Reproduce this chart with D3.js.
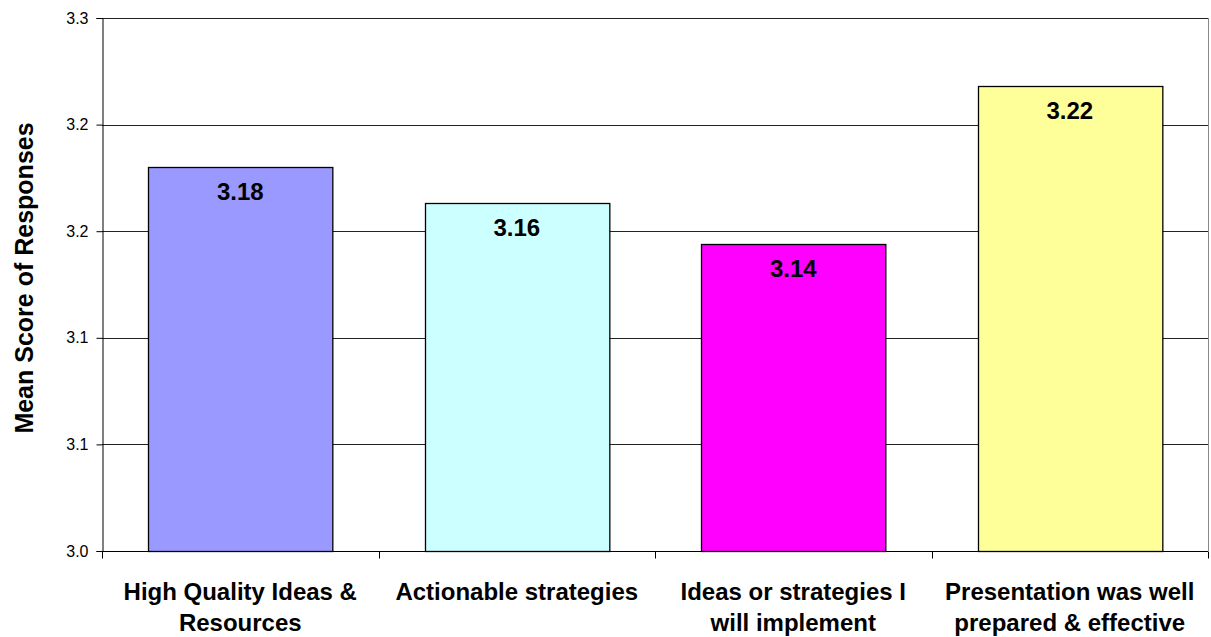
<!DOCTYPE html>
<html>
<head>
<meta charset="utf-8">
<script src="https://cdn.jsdelivr.net/npm/d3@7"></script>
<style>
  html, body { margin: 0; padding: 0; background: #fff; }
  svg { display: block; font-family: "Liberation Sans", Arial, sans-serif; }
</style>
</head>
<body>
<svg id="chart" width="1211" height="637"></svg>
<script>
// Survey results: mean score per question
const categories = [
  "High Quality Ideas &\nResources",
  "Actionable strategies",
  "Ideas or strategies I\nwill implement",
  "Presentation was well\nprepared & effective"
];
const meanScores = [3.18, 3.163, 3.144, 3.218];
const valueLabels = ["3.18", "3.16", "3.14", "3.22"];
const barColors = ["#9999FF", "#CCFFFF", "#FF00FF", "#FFFF99"];
const tickValues = [3.00, 3.05, 3.10, 3.15, 3.20, 3.25];
const tickLabels = ["3.0", "3.1", "3.1", "3.2", "3.2", "3.3"];
const yTitle = "Mean Score of Responses";

const svg = d3.select("#chart");
const margin = { left: 102, right: 3, top: 18, bottom: 86 };
const W = 1211, H = 637;

const x = d3.scaleBand()
  .domain(categories)
  .range([margin.left, W - margin.right])
  .paddingInner(1 / 3)
  .paddingOuter(1 / 6);

const y = d3.scaleLinear()
  .domain([3.0, 3.25])
  .range([H - margin.bottom, margin.top]);

// Horizontal gridlines
svg.append("g")
  .selectAll("line")
  .data(tickValues.slice(1))
  .join("line")
  .attr("x1", margin.left)
  .attr("x2", W - margin.right)
  .attr("y1", d => Math.round(y(d)) + 0.5)
  .attr("y2", d => Math.round(y(d)) + 0.5)
  .attr("stroke", "#222")
  .attr("stroke-width", 1);

// Right border of plot area
svg.append("line")
  .attr("x1", W - margin.right + 0.5).attr("x2", W - margin.right + 0.5)
  .attr("y1", margin.top).attr("y2", H - margin.bottom)
  .attr("stroke", "#888");

// Bars
const data = categories.map((c, i) => ({ c, v: meanScores[i], label: valueLabels[i], color: barColors[i] }));

svg.append("g")
  .selectAll("rect")
  .data(data)
  .join("rect")
  .attr("x", d => Math.round(x(d.c)) + 0.5)
  .attr("y", d => Math.round(y(d.v)) + 0.5)
  .attr("width", x.bandwidth())
  .attr("height", d => Math.round(y(3.0)) - Math.round(y(d.v)))
  .attr("fill", d => d.color)
  .attr("stroke", "#000")
  .attr("stroke-width", 1.3);

// Value labels inside bar tops
svg.append("g")
  .selectAll("text")
  .data(data)
  .join("text")
  .attr("x", d => x(d.c) + x.bandwidth() / 2)
  .attr("y", d => y(d.v) + 33)
  .attr("text-anchor", "middle")
  .attr("font-size", 24)
  .attr("font-weight", "bold")
  .attr("fill", "#000")
  .text(d => d.label);

// Y axis
const yAxis = d3.axisLeft(y)
  .tickValues(tickValues)
  .tickFormat((d, i) => tickLabels[i])
  .tickSize(6)
  .tickPadding(8);

const gy = svg.append("g")
  .attr("transform", `translate(${margin.left + 0.5},0)`)
  .call(yAxis);
gy.select(".domain").attr("stroke", "#000");
gy.selectAll(".tick line").attr("stroke", "#000");
gy.selectAll(".tick text")
  .attr("font-size", 16)
  .attr("font-family", "Liberation Sans, Arial, sans-serif")
  .attr("fill", "#000");

// X axis baseline and category separators
const baseY = Math.round(y(3.0)) + 0.5;
svg.append("line")
  .attr("x1", margin.left).attr("x2", W - margin.right)
  .attr("y1", baseY).attr("y2", baseY)
  .attr("stroke", "#000");

const step = x.step();
const bounds = d3.range(categories.length + 1).map(i => margin.left + i * step);
svg.append("g")
  .selectAll("line")
  .data(bounds)
  .join("line")
  .attr("x1", d => Math.round(d) + 0.5)
  .attr("x2", d => Math.round(d) + 0.5)
  .attr("y1", baseY)
  .attr("y2", baseY + 7)
  .attr("stroke", "#000");

// Category labels
const catG = svg.append("g")
  .selectAll("text")
  .data(categories)
  .join("text")
  .attr("text-anchor", "middle")
  .attr("font-size", 24)
  .attr("font-weight", "bold")
  .attr("fill", "#000");
catG.each(function (c) {
  const lines = c.split("\n");
  const t = d3.select(this);
  lines.forEach((ln, i) => {
    t.append("tspan")
      .attr("x", x(c) + x.bandwidth() / 2)
      .attr("y", 600 + i * 31)
      .text(ln);
  });
});

// Y axis title
svg.append("text")
  .attr("transform", `translate(33, 278) rotate(-90)`)
  .attr("text-anchor", "middle")
  .attr("font-size", 25)
  .attr("font-weight", "bold")
  .attr("fill", "#000")
  .text(yTitle);
</script>
</body>
</html>
